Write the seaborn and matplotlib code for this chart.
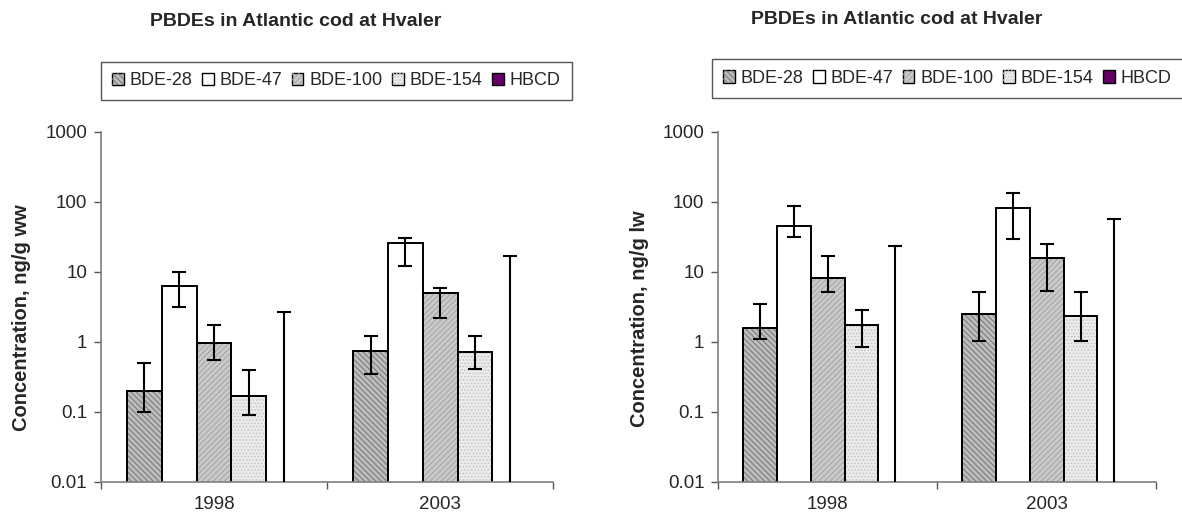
import numpy as np
import pandas as pd
import matplotlib
matplotlib.use("Agg")
import matplotlib.pyplot as plt
from matplotlib.patches import Patch, Rectangle
from matplotlib.container import BarContainer
import seaborn as sns

# ---------------- data ----------------
years = ["1998", "2003"]
compounds = ["BDE-28", "BDE-47", "BDE-100", "BDE-154", "HBCD"]

# wet weight (left panel)
ww_mean = {"BDE-28": [0.20, 0.74], "BDE-47": [6.3, 25.9], "BDE-100": [0.96, 4.96],
           "BDE-154": [0.17, 0.71], "HBCD": [0.005, 0.005]}
ww_low = {"BDE-28": [0.10, 0.35], "BDE-47": [3.1, 12.0], "BDE-100": [0.55, 2.16],
          "BDE-154": [0.089, 0.41], "HBCD": [0.001, 0.001]}
ww_high = {"BDE-28": [0.50, 1.20], "BDE-47": [10.0, 30.6], "BDE-100": [1.71, 5.9],
           "BDE-154": [0.39, 1.20], "HBCD": [2.7, 16.9]}

# lipid weight (right panel)
lw_mean = {"BDE-28": [1.55, 2.5], "BDE-47": [45.4, 82.0], "BDE-100": [8.2, 15.7],
           "BDE-154": [1.75, 2.35], "HBCD": [0.005, 0.005]}
lw_low = {"BDE-28": [1.08, 1.02], "BDE-47": [31.6, 29.6], "BDE-100": [5.1, 5.35],
          "BDE-154": [0.85, 1.02], "HBCD": [0.001, 0.001]}
lw_high = {"BDE-28": [3.5, 5.1], "BDE-47": [87.0, 132.0], "BDE-100": [16.6, 24.9],
           "BDE-154": [2.8, 5.1], "HBCD": [23.5, 57.0]}

title_text = "PBDEs in Atlantic cod at Hvaler"
ylabels = ["Concentration, ng/g ww", "Concentration, ng/g lw"]
ytick_vals = [0.01, 0.1, 1, 10, 100, 1000]
ytick_labels = ["0.01", "0.1", "1", "10", "100", "1000"]

# ---------------- style ----------------
face = {"BDE-28": "#bdbdbd", "BDE-47": "#ffffff", "BDE-100": "#cacaca",
        "BDE-154": "#ececec", "HBCD": "#660066"}
hatch = {"BDE-28": "\\\\\\\\\\\\", "BDE-47": None, "BDE-100": "//////",
         "BDE-154": ".....", "HBCD": None}
hatch_col = {"BDE-28": "#747474", "BDE-47": "none", "BDE-100": "#a2a2a2",
             "BDE-154": "#c2c2c2", "HBCD": "none"}

sns.set_style("white")
plt.rcParams["font.family"] = ["Liberation Sans", "DejaVu Sans"]
plt.rcParams["hatch.linewidth"] = 0.7

W, H = 1182, 518
fig = plt.figure(figsize=(W / 100, H / 100), dpi=100)

axes_px = [(101, 553.3), (718.3, 1156.3)]
ytop_px, ybot_px = 131.7, 481.7
title_px = [(296, 21), (897, 20)]
legend_px = [(101, 61.5), (712, 59)]
ylabel_px = [(31, 318), (649, 319)]


def build_df(mean, low, high):
    rows = []
    for c in compounds:
        for i, y in enumerate(years):
            rows.append({"year": y, "compound": c, "value": mean[c][i],
                         "low": low[c][i], "high": high[c][i]})
    return pd.DataFrame(rows)


datasets = [build_df(ww_mean, ww_low, ww_high), build_df(lw_mean, lw_low, lw_high)]

for k, df in enumerate(datasets):
    x0, x1 = axes_px[k]
    ax = fig.add_axes([x0 / W, (H - ybot_px) / H, (x1 - x0) / W, (ybot_px - ytop_px) / H])
    sns.barplot(data=df, x="year", y="value", hue="compound", order=years,
                hue_order=compounds, palette=face, saturation=1, width=0.77,
                gap=0, edgecolor="black", linewidth=1.4, errorbar=None,
                legend=False, ax=ax, log_scale=(False, True))
    ax.set_yscale("log")
    ax.set_ylim(0.01, 1000)
    ax.set_xlim(-0.5, 1.5)

    bar_conts = [c for c in ax.containers if isinstance(c, BarContainer)]
    for ci, cont in enumerate(bar_conts):
        comp = compounds[ci]
        sub = df[df["compound"] == comp].set_index("year").loc[years]
        for bi, bar in enumerate(cont):
            bx, bw = bar.get_x(), bar.get_width()
            by, bh = bar.get_y(), bar.get_height()
            if hatch[comp]:
                ax.add_patch(Rectangle((bx, by), bw, bh, fill=False, hatch=hatch[comp],
                                       edgecolor=hatch_col[comp], linewidth=0, zorder=bar.get_zorder() + 0.1))
                ax.add_patch(Rectangle((bx, by), bw, bh, fill=False,
                                       edgecolor="black", linewidth=1.4, zorder=bar.get_zorder() + 0.2))
            v = sub["value"].iloc[bi]
            lo = sub["low"].iloc[bi]
            hi = sub["high"].iloc[bi]
            ax.errorbar(bx + bw / 2, v, yerr=[[v - lo], [hi - v]], fmt="none",
                        ecolor="black", elinewidth=1.5, capsize=5, capthick=1.5, zorder=5)

    # axes styling
    for s in ["top", "right"]:
        ax.spines[s].set_visible(False)
    for s in ["left", "bottom"]:
        ax.spines[s].set_color("#7f7f7f")
        ax.spines[s].set_linewidth(1.2)
    ax.set_yticks(ytick_vals)
    ax.set_yticklabels(ytick_labels)
    ax.yaxis.set_minor_locator(matplotlib.ticker.NullLocator())
    ax.tick_params(axis="y", which="major", direction="out", length=5, width=1,
                   color="#555555", labelsize=13.5, pad=5, left=True)
    ax.set_xticks([0, 1])
    ax.set_xticklabels(years)
    ax.set_xticks([-0.5, 0.5, 1.5], minor=True)
    ax.tick_params(axis="x", which="major", length=0, labelsize=13.5, pad=10)
    ax.tick_params(axis="x", which="minor", direction="out", length=5, width=1,
                   color="#555555", bottom=True)
    ax.set_xlabel("")
    ax.set_ylabel(ylabels[k], fontsize=14.5, fontweight="bold")
    ax.yaxis.set_label_coords(ylabel_px[k][0] / W, 1 - ylabel_px[k][1] / H,
                              transform=fig.transFigure)

    fig.text(title_px[k][0] / W, 1 - title_px[k][1] / H, title_text,
             fontsize=14, fontweight="bold", ha="center", va="center")

    handles = []
    for c in compounds:
        base = Patch(facecolor=face[c], edgecolor="black", linewidth=1)
        if hatch[c]:
            over = Patch(fill=False, hatch=hatch[c], edgecolor=hatch_col[c], linewidth=0)
            handles.append((base, over))
        else:
            handles.append(base)
    lx, ly = legend_px[k]
    leg = ax.legend(handles, compounds, loc="upper left",
                    bbox_to_anchor=(lx / W, 1 - ly / H), bbox_transform=fig.transFigure,
                    ncol=5, frameon=True, fancybox=False, framealpha=1,
                    edgecolor="#555555", fontsize=13, handlelength=0.65,
                    handleheight=0.65, handletextpad=0.35, columnspacing=0.5,
                    borderpad=0.6, borderaxespad=0)
    leg.get_frame().set_linewidth(1.0)

fig.savefig("out.png", dpi=100)
